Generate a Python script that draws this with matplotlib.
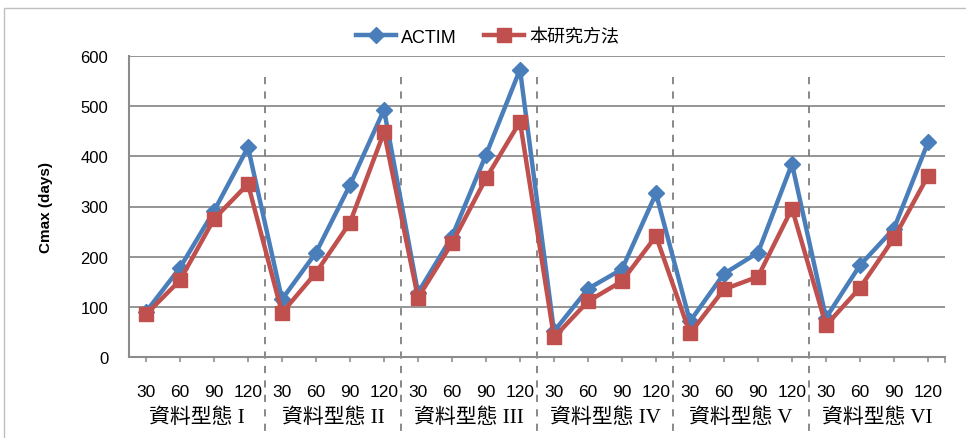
import matplotlib
matplotlib.use("Agg")
import matplotlib.pyplot as plt
from matplotlib.patches import Rectangle
from matplotlib.lines import Line2D
import matplotlib.transforms as mtransforms

# Data
durations = ["30", "60", "90", "120"]
groups = ["資料型態 I", "資料型態 II", "資料型態 III", "資料型態 IV", "資料型態 V", "資料型態 VI"]
actim = [90, 178, 291, 418,
         115, 208, 343, 493,
         128, 240, 403, 573,
         51, 136, 175, 326,
         71, 166, 208, 385,
         78, 183, 256, 428]
proposed = [85, 153, 275, 345,
            88, 168, 268, 448,
            118, 227, 356, 469,
            39, 111, 151, 241,
            47, 135, 160, 296,
            63, 138, 237, 361]
series_names = ["ACTIM", "本研究方法"]
y_ticks = [0, 100, 200, 300, 400, 500, 600]

BLUE = "#4A7EBB"
RED = "#C0504D"
GRID = "#8C8C8C"

plt.rcParams["font.family"] = ["Liberation Sans", "Noto Sans CJK TC"]

fig = plt.figure(figsize=(9.66, 4.39), dpi=100)
W, H = 966, 439
ax = fig.add_axes([129 / W, 1 - 358 / H, (945 - 129) / W, (358 - 57) / H])

# outer chart border
fig.patches.append(Rectangle((4 / W, -0.05), 1.05, 1 - 9 / H + 0.05,
                             transform=fig.transFigure, fill=False,
                             edgecolor="#BFBFBF", linewidth=1.0))

x = list(range(len(actim)))
ax.plot(x, actim, color=BLUE, linewidth=3.2, marker="D", markersize=8,
        markerfacecolor=BLUE, markeredgecolor=BLUE, zorder=3)
ax.plot(x, proposed, color=RED, linewidth=3.2, marker="s", markersize=10,
        markerfacecolor=RED, markeredgecolor=RED, zorder=4)

ax.set_xlim(-0.5, len(x) - 0.5)
ax.set_ylim(0, 600)
ax.set_yticks(y_ticks)
ax.yaxis.grid(True, color=GRID, linewidth=1.3)
ax.set_axisbelow(True)
ax.tick_params(axis="y", length=0, pad=15, labelsize=12)

# category ticks
ax.set_xticks(x)
ax.set_xticklabels(durations * len(groups), fontsize=12.5)
ax.tick_params(axis="x", direction="out", length=3.6, width=1.2, color=GRID, pad=16)

for s in ["top", "right"]:
    ax.spines[s].set_visible(False)
for s in ["left", "bottom"]:
    ax.spines[s].set_color(GRID)
    ax.spines[s].set_linewidth(1.5)

trans = mtransforms.blended_transform_factory(ax.transData, ax.transAxes)

# end tick on the right edge
ax.plot([len(x) - 0.5, len(x) - 0.5], [0, -0.017], transform=trans,
        color=GRID, linewidth=1.2, clip_on=False)

# group separators
n = len(durations)
for g in range(1, len(groups)):
    xb = g * n - 0.5
    ax.plot([xb, xb], [0.93, -0.26], transform=trans,
            color="#7F7F7F", linewidth=1.3, linestyle=(0, (4, 4)), clip_on=False, zorder=2)

# group labels
for g, name in enumerate(groups):
    xc = g * n + (n - 1) / 2
    ax.text(xc, -0.20, name, transform=trans, ha="center", va="center",
            fontsize=15, family=["Liberation Serif", "Noto Sans CJK TC"])

ax.set_ylabel("Cmax (days)", fontsize=11, fontweight="bold", labelpad=20)

handles = [Line2D([], [], color=BLUE, linewidth=3.2, marker="D", markersize=8),
           Line2D([], [], color=RED, linewidth=3.2, marker="s", markersize=10)]
fig.legend(handles, series_names, loc="center", bbox_to_anchor=(0.505, 1 - 38 / H),
           ncol=2, frameon=False, fontsize=13, handlelength=2.2, columnspacing=1.5,
           handletextpad=0.3)

fig.savefig("out.png", dpi=100)
